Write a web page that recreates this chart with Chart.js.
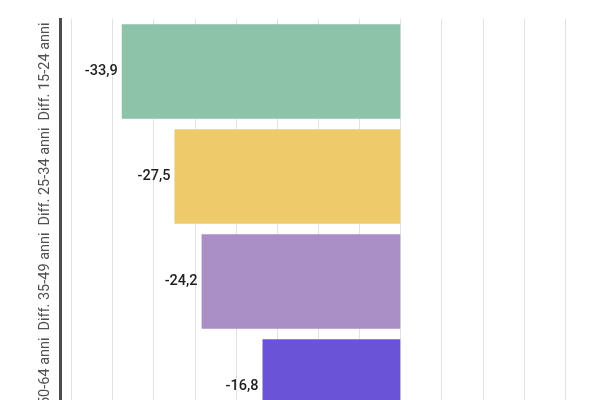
<!DOCTYPE html>
<html lang="it">

<head>
    <meta charset="utf-8" />
    <title>Differenze per fascia d'età</title>
    <script src="https://cdn.jsdelivr.net/npm/chart.js@4.4.0/dist/chart.umd.min.js"></script>
    <style>
        html, body {
            margin: 0;
            padding: 0;
            overflow: hidden;
            background: #fff;
        }
        #wrap {
            width: 600px;
            height: 400px;
            overflow: hidden;
        }
    </style>
</head>

<body>
    <div id="wrap">
        <canvas id="chart-diff" width="600" height="440"></canvas>
    </div>
</body>

<script>
    const categories = ['Diff. 15-24 anni', 'Diff. 25-34 anni', 'Diff. 35-49 anni', 'Diff. 50-64 anni'];
    const values = [-33.9, -27.5, -24.2, -16.8];
    const barColors = ['#8dc3a8', '#eeca6b', '#aa8ec6', '#6b53d8'];

    const fmt = v => v.toFixed(1).replace('.', ',');

    // labels: category names rotated on the left, values left of each bar
    const labelsPlugin = {
        id: 'labelsPlugin',
        afterDatasetsDraw(chart) {
            const ctx = chart.ctx;
            const yScale = chart.scales.y;
            const meta = chart.getDatasetMeta(0);

            ctx.save();
            ctx.font = '500 14.5px Roboto';
            ctx.fillStyle = '#1e1e1e';
            ctx.textAlign = 'right';
            ctx.textBaseline = 'middle';
            meta.data.forEach((bar, i) => {
                ctx.fillText(fmt(values[i]), bar.x - 4, bar.y);
            });

            ctx.font = '14.5px Roboto';
            ctx.fillStyle = '#505050';
            ctx.textAlign = 'center';
            categories.forEach((c, i) => {
                const y = yScale.getPixelForValue(i);
                ctx.save();
                ctx.translate(45, y);
                ctx.rotate(-Math.PI / 2);
                ctx.fillText(c, 0, 0);
                ctx.restore();
            });
            ctx.restore();
        }
    };

    const ctx = document.getElementById('chart-diff').getContext('2d');
    new Chart(ctx, {
        type: 'bar',
        data: {
            labels: categories,
            datasets: [{
                data: values,
                backgroundColor: barColors,
                borderWidth: 0,
                barPercentage: 0.9,
                categoryPercentage: 1.0
            }]
        },
        options: {
            indexAxis: 'y',
            responsive: false,
            animation: false,
            layout: {
                padding: { left: 60, top: 19, right: 0, bottom: 1 }
            },
            plugins: {
                legend: { display: false },
                tooltip: { enabled: false }
            },
            scales: {
                x: {
                    min: -41.4,
                    max: 24.2,
                    ticks: { display: false, stepSize: 5, includeBounds: false },
                    grid: { color: '#e2e2e2', lineWidth: 1, drawTicks: false },
                    border: { display: false },
                    afterFit: s => { s.height = 0; }
                },
                y: {
                    ticks: { display: false },
                    grid: { display: false, drawTicks: false },
                    border: { display: true, color: '#4d4d4d', width: 3 },
                    afterFit: s => { s.width = 0; }
                }
            }
        },
        plugins: [labelsPlugin]
    });
</script>

</html>
